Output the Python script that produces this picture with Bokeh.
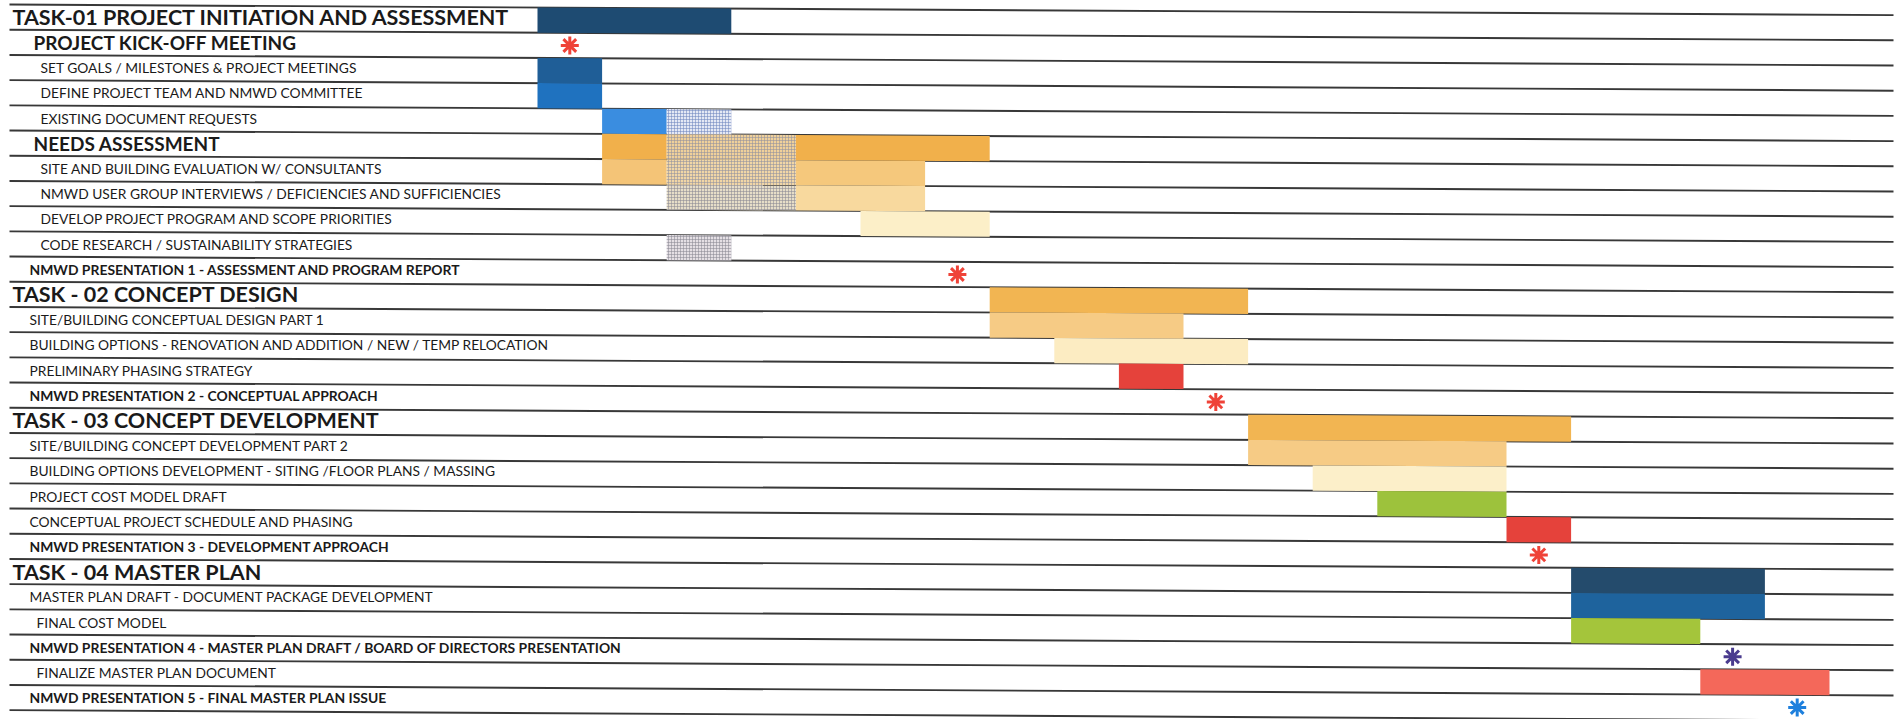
from bokeh.plotting import figure
from bokeh.models import Range1d
from bokeh.core.properties import value
from bokeh.embed import file_html
from bokeh.resources import INLINE

# ---------------- data ----------------
task_labels = [
    "TASK-01 PROJECT INITIATION AND ASSESSMENT",
    "PROJECT KICK-OFF MEETING",
    "SET GOALS / MILESTONES & PROJECT MEETINGS",
    "DEFINE PROJECT TEAM AND NMWD COMMITTEE",
    "EXISTING DOCUMENT REQUESTS",
    "NEEDS ASSESSMENT",
    "SITE AND BUILDING EVALUATION W/ CONSULTANTS",
    "NMWD USER GROUP INTERVIEWS / DEFICIENCIES AND SUFFICIENCIES",
    "DEVELOP PROJECT PROGRAM AND SCOPE PRIORITIES",
    "CODE RESEARCH / SUSTAINABILITY STRATEGIES",
    "NMWD PRESENTATION 1 - ASSESSMENT AND PROGRAM REPORT",
    "TASK - 02 CONCEPT DESIGN",
    "SITE/BUILDING CONCEPTUAL DESIGN PART 1",
    "BUILDING OPTIONS - RENOVATION AND ADDITION  / NEW / TEMP RELOCATION",
    "PRELIMINARY PHASING STRATEGY",
    "NMWD PRESENTATION 2 - CONCEPTUAL APPROACH",
    "TASK - 03 CONCEPT DEVELOPMENT",
    "SITE/BUILDING CONCEPT DEVELOPMENT PART 2",
    "BUILDING OPTIONS DEVELOPMENT - SITING /FLOOR PLANS / MASSING",
    "PROJECT COST MODEL DRAFT",
    "CONCEPTUAL PROJECT SCHEDULE AND PHASING",
    "NMWD PRESENTATION 3 - DEVELOPMENT APPROACH",
    "TASK - 04 MASTER PLAN",
    "MASTER PLAN DRAFT - DOCUMENT PACKAGE DEVELOPMENT",
    "FINAL COST MODEL",
    "NMWD PRESENTATION 4 - MASTER PLAN DRAFT  / BOARD OF DIRECTORS PRESENTATION",
    "FINALIZE MASTER PLAN DOCUMENT",
    "NMWD PRESENTATION 5 - FINAL MASTER PLAN ISSUE",
]
task_levels = [
    "task", "group", "sub", "sub", "sub", "group", "sub", "sub", "sub", "sub", "pres",
    "task", "sub2", "sub2", "sub2", "pres",
    "task", "sub2", "sub2", "sub2", "sub2", "pres",
    "task", "sub2", "sub3", "pres", "sub3", "pres",
]

# solid bars (row, start week, end week, colour)
bar_rows   = [0, 2, 3, 4, 5, 5, 6, 6, 7, 8, 11, 12, 13, 14, 16, 17, 18, 19, 20, 22, 23, 24, 26]
bar_start  = [0, 0, 0, 1, 1, 4, 1, 4, 4, 5, 7, 7, 8, 9, 11, 11, 12, 13, 15, 16, 16, 16, 18]
bar_end    = [3, 1, 1, 2, 2, 7, 2, 6, 6, 7, 11, 10, 11, 10, 16, 15, 15, 15, 16, 19, 19, 18, 20]
bar_colors = ["#1e4b72", "#1f5e97", "#1f72bf", "#3a8de0", "#f1b04b", "#f1b04b",
              "#f4c477", "#f5c87c", "#f8d99e", "#fcefc8", "#f2b552", "#f6cb85",
              "#fcecc2", "#e5423b", "#f2b552", "#f6cb85", "#fcefc9", "#9dc23c",
              "#e5423b", "#244b6c", "#1e639d", "#a4c53b", "#f4685a"]

# cross-hatched (shared) bars
hatch_rows   = [4, 5, 6, 7, 9]
hatch_start  = [2, 2, 2, 2, 2]
hatch_end    = [3, 4, 4, 4, 3]
hatch_fill   = ["#e4e8f4", "#efd09a", "#f1d6a6", "#e6ddc8", "#e4dfe4"]
hatch_ink    = ["#6f86c0", "#8f8f9e", "#8f8f9e", "#8a8894", "#8a8894"]

# milestones (row, week, colour)
ms_rows   = [1, 10, 15, 21, 25, 27]
ms_x      = [0.5, 6.5, 10.5, 15.5, 18.5, 19.5]
ms_colors = ["#ef4338", "#ef4338", "#ef4338", "#ef4338", "#4a3b8e", "#1e80dd"]

# ---------------- layout ----------------
W, H = 1902, 719
PX0, UNIT = 537.0, 64.6          # pixel of week 0, pixels per week
ROW_H = 25.2                      # pixels per row
TOP0, SLOPE = 4.0, 0.0056         # scan tilt of the ruled lines
LINE_L, LINE_R = 9.0, 1893.0

styles = {
    "task":  dict(indent=12, size="21.5px", style="bold"),
    "group": dict(indent=33, size="19px", style="bold"),
    "sub":   dict(indent=40, size="13.8px", style="normal"),
    "sub2":  dict(indent=29, size="13.8px", style="normal"),
    "sub3":  dict(indent=36, size="13.8px", style="normal"),
    "pres":  dict(indent=29, size="13.9px", style="bold"),
}

def px_to_x(px):
    return (px - PX0) / UNIT

def tilt(xw):
    return (TOP0 + SLOPE * (PX0 + UNIT * xw)) / ROW_H

p = figure(width=W, height=H, output_backend="svg", toolbar_location=None,
           x_range=Range1d(px_to_x(0), px_to_x(W)),
           y_range=Range1d(H / ROW_H, 0),
           min_border=0, outline_line_color=None, background_fill_color="white",
           border_fill_color="white")
p.axis.visible = False
p.grid.visible = False

# ruled lines
n = len(task_labels)
xl, xr = px_to_x(LINE_L), px_to_x(LINE_R)
p.segment(x0=[xl] * (n + 1), y0=[i + tilt(xl) for i in range(n + 1)],
          x1=[xr] * (n + 1), y1=[i + tilt(xr) for i in range(n + 1)],
          line_color="#383838", line_width=1.9)

def quad_poly(r, a, b):
    return [a, b, b, a], [r + tilt(a), r + tilt(b), r + 1 + tilt(b), r + 1 + tilt(a)]

xs, ys = zip(*[quad_poly(r, a, b) for r, a, b in zip(bar_rows, bar_start, bar_end)])
p.patches(xs=list(xs), ys=list(ys), fill_color=bar_colors, line_color=None)

hx, hy = zip(*[quad_poly(r, a, b) for r, a, b in zip(hatch_rows, hatch_start, hatch_end)])
p.patches(xs=list(hx), ys=list(hy), fill_color=hatch_fill, line_color=None,
          hatch_pattern="cross", hatch_color=hatch_ink, hatch_scale=3,
          hatch_weight=1, hatch_alpha=0.55)

# milestones
p.scatter(x=ms_x, y=[r + 0.5 + tilt(x) for r, x in zip(ms_rows, ms_x)],
          marker="asterisk", size=18, line_width=3, line_color=ms_colors)

# labels
for lvl in styles:
    idx = [i for i, l in enumerate(task_levels) if l == lvl]
    if not idx:
        continue
    st = styles[lvl]
    tx = px_to_x(st["indent"])
    p.text(x=[tx] * len(idx), y=[i + 0.5 + tilt(tx) for i in idx],
           text=[task_labels[i] for i in idx],
           text_font=value("Lato"), text_font_size=st["size"],
           text_font_style=st["style"], text_color="#1a1a1a",
           text_baseline="middle", text_align="left")

open("out.html", "w").write(file_html(p, INLINE))
